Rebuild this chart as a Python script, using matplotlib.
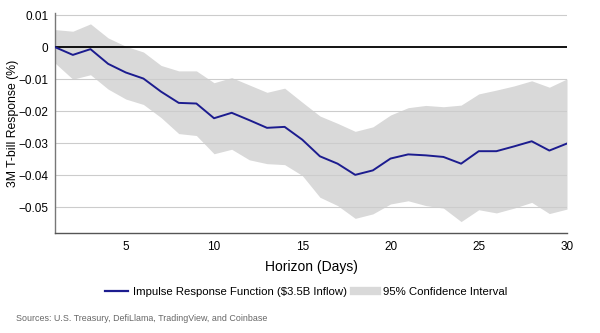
import matplotlib.pyplot as plt
from matplotlib.lines import Line2D

plt.rcParams['font.family'] = ['Liberation Sans', 'DejaVu Sans']

# horizon days and the impulse response with its 95% band
days = list(range(1, 31))
irf = [0.0, -0.0024, -0.0006, -0.0052, -0.0079, -0.0098, -0.0139, -0.0174, -0.0176, -0.0222,
       -0.0205, -0.0228, -0.0252, -0.0249, -0.0289, -0.0341, -0.0364, -0.0399, -0.0385, -0.0348,
       -0.0335, -0.0338, -0.0343, -0.0364, -0.0325, -0.0325, -0.0310, -0.0294, -0.0323, -0.0301]
upper = [0.0055, 0.0050, 0.0073, 0.0029, 0.0003, -0.0015, -0.0057, -0.0074, -0.0074, -0.0111,
         -0.0095, -0.0118, -0.0141, -0.0128, -0.0172, -0.0215, -0.0238, -0.0263, -0.0249, -0.0212,
         -0.0189, -0.0182, -0.0186, -0.0181, -0.0146, -0.0134, -0.0121, -0.0105, -0.0125, -0.0099]
lower = [-0.0050, -0.0100, -0.0086, -0.0131, -0.0162, -0.0179, -0.0220, -0.0270, -0.0276, -0.0333,
         -0.0319, -0.0352, -0.0364, -0.0367, -0.0401, -0.0469, -0.0495, -0.0535, -0.0521, -0.0490,
         -0.0480, -0.0495, -0.0503, -0.0545, -0.0508, -0.0518, -0.0503, -0.0485, -0.0520, -0.0506]

yticks = [0.01, 0, -0.01, -0.02, -0.03, -0.04, -0.05]
ytick_labels = ['0.01', '0', '\u22120.01', '\u22120.02', '\u22120.03', '\u22120.04', '\u22120.05']
xticks = [5, 10, 15, 20, 25, 30]

fig = plt.figure(figsize=(6, 3.33), dpi=100)
ax = fig.add_axes([0.092, 0.301, 0.853, 0.66])

band_color = '#d9d9d9'
line_color = '#1c1c8f'

ax.fill_between(days, lower, upper, color=band_color, linewidth=0, zorder=1)
for t in yticks:
    if t != 0:
        ax.axhline(t, color='#cccccc', linewidth=0.8, zorder=2)
ax.axhline(0, color='black', linewidth=1.3, zorder=3)
ax.plot(days, irf, color=line_color, linewidth=1.4, zorder=4)

ax.set_xlim(1, 30)
ax.set_ylim(-0.058, 0.0107)
ax.set_xticks(xticks)
ax.set_yticks(yticks)
ax.set_yticklabels(ytick_labels)
ax.tick_params(length=0, labelsize=8.5, pad=5)
ax.tick_params(axis='x', pad=6)

for side in ['top', 'right']:
    ax.spines[side].set_visible(False)
ax.spines['left'].set_color('#777777')
ax.spines['bottom'].set_color('#555555')
ax.spines['left'].set_linewidth(1.0)
ax.spines['bottom'].set_linewidth(1.0)

ax.set_xlabel('Horizon (Days)', fontsize=10, labelpad=5)
ax.set_ylabel('3M T-bill Response (%)', fontsize=8.8, va='center')
ax.yaxis.set_label_coords(-0.082, 0.5)

handles = [Line2D([0], [0], color=line_color, linewidth=1.6),
           Line2D([0], [0], color=band_color, linewidth=6)]
fig.legend(handles, ['Impulse Response Function ($3.5B Inflow)', '95% Confidence Interval'],
           loc='center', bbox_to_anchor=(0.51, 0.122), ncol=2, frameon=False,
           fontsize=8.2, handlelength=2.0, columnspacing=0.6, handletextpad=0.5)

fig.text(0.027, 0.045, 'Sources: U.S. Treasury, DefiLlama, TradingView, and Coinbase',
         fontsize=6.4, color='#666666', va='center')

fig.savefig('out.png', dpi=100)
